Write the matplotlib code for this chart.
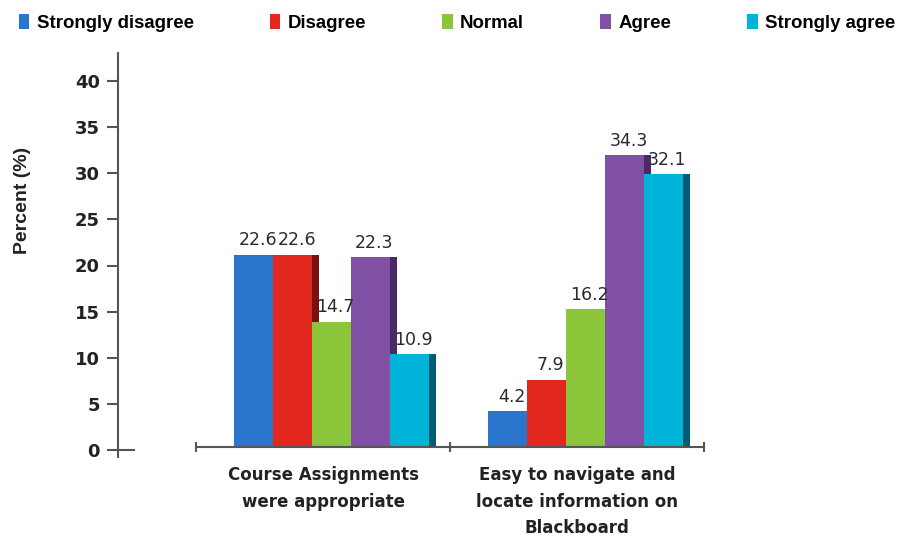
#!/usr/bin/env python3

import matplotlib.pyplot as plt
from matplotlib.patches import Patch

# Data
categories = ["Course Assignments\nwere appropriate",
              "Easy to navigate and\nlocate information on\nBlackboard"]
responses = ["Strongly disagree", "Disagree", "Normal", "Agree", "Strongly agree"]
strongly_disagree = [22.6, 4.2]
disagree = [22.6, 7.9]
normal = [14.7, 16.2]
agree = [22.3, 34.3]
strongly_agree = [10.9, 32.1]
y_ticks = [0, 5, 10, 15, 20, 25, 30, 35, 40]

series = [strongly_disagree, disagree, normal, agree, strongly_agree]
colors = ["#2a76cc", "#e2281e", "#8bc53a", "#7f50a3", "#00b3d9"]
side_colors = ["#173f70", "#7a1010", "#4b6e1e", "#4a2a66", "#005c72"]

W, H = 911, 536


def frac(x0, y0, x1, y1):
    # pixel box (from top-left) -> figure fraction [left, bottom, width, height]
    return [x0 / W, 1 - y1 / H, (x1 - x0) / W, (y1 - y0) / H]


def main():
    fig = plt.figure(figsize=(W / 100, H / 100), dpi=100)

    # Bars live in their own axes (no visible y axis)
    ax = fig.add_axes(frac(196, 60, 704, 447))
    ax.set_xlim(-0.5, 1.5)
    ax.set_ylim(0, 387 / 8.5)

    width = 0.153
    shift = 0.033
    side = 0.028
    for i, vals in enumerate(series):
        xs = [g + shift + (i - 2) * width for g in range(len(categories))]
        # dark right-hand side, partly hidden by the next bar
        ax.bar([x + width / 2 + side / 2 for x in xs], vals, width=side,
               color=side_colors[i], zorder=1)
        ax.bar(xs, vals, width=width, color=colors[i], zorder=2)
        for x, v in zip(xs, vals):
            ax.annotate(f"{v}", (x, v), xytext=(3, 4), textcoords="offset points",
                        ha="center", va="bottom", fontsize=12.5, color="#2a2a2a",
                        zorder=3)

    for s in ["top", "right", "left"]:
        ax.spines[s].set_visible(False)
    ax.spines["bottom"].set_color("#555555")
    ax.spines["bottom"].set_linewidth(1.5)
    ax.set_yticks([])
    ax.set_xticks(range(len(categories)))
    ax.set_xticklabels(categories, fontsize=12, fontweight="bold", color="#222222",
                       linespacing=1.6)
    ax.tick_params(axis="x", which="major", length=0, pad=14)
    ax.set_xticks([-0.5, 0.5, 1.5], minor=True)
    ax.tick_params(axis="x", which="minor", length=7, width=1.5,
                   direction="inout", color="#555555")

    # Separate y axis on the left
    ay = fig.add_axes(frac(118, 53, 134, 457))
    ay.set_xlim(0, 1)
    ay.set_ylim(-(457 - 450) / 9.225, 40 + (81 - 53) / 9.225)
    ay.plot([0, 1], [0, 0], color="#555555", lw=1.5, clip_on=False)
    ay.set_yticks(y_ticks)
    ay.set_yticklabels([str(t) for t in y_ticks], fontsize=13, fontweight="bold",
                       color="#222222")
    ay.tick_params(axis="y", length=8, width=1.5, color="#555555", pad=5)
    ay.set_xticks([])
    for s in ["top", "right", "bottom"]:
        ay.spines[s].set_visible(False)
    ay.spines["left"].set_color("#555555")
    ay.spines["left"].set_linewidth(1.5)
    ay.patch.set_visible(False)

    fig.text(23 / W, 1 - 200 / H, "Percent (%)", rotation=90, ha="center",
             va="center", fontsize=14, fontweight="bold", color="#222222",
             family="Liberation Sans")

    handles = [Patch(facecolor=c, edgecolor="none") for c in colors]
    fig.legend(handles, responses, loc="center left", bbox_to_anchor=(19 / W, 1 - 23 / H),
               ncol=5, frameon=False, handlelength=0.55, handleheight=0.9,
               handletextpad=0.4, columnspacing=4.1, borderaxespad=0, borderpad=0,
               prop={"family": "Liberation Sans", "weight": "bold", "size": 13.4})

    fig.savefig("out.png", dpi=100)


if __name__ == "__main__":
    main()
